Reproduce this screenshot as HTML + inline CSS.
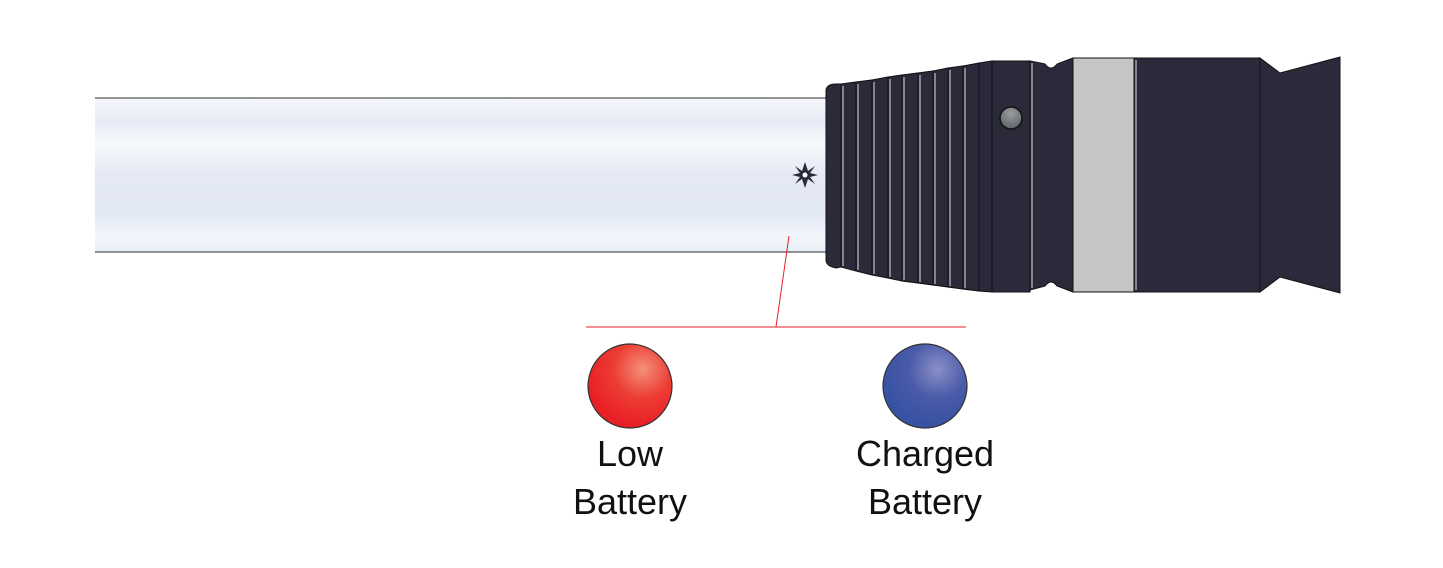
<!DOCTYPE html>
<html><head><style>
html,body{margin:0;padding:0;background:#fff;width:1443px;height:568px;overflow:hidden}
text{font-family:"Liberation Sans",sans-serif}
</style></head><body>
<svg width="1443" height="568" viewBox="0 0 1443 568" xmlns="http://www.w3.org/2000/svg">
<defs>
<linearGradient id="tube" x1="0" y1="0" x2="0" y2="1">
<stop offset="0" stop-color="#f4f6fb"/>
<stop offset="0.15" stop-color="#e6ebf5"/>
<stop offset="0.3" stop-color="#f6f8fc"/>
<stop offset="0.5" stop-color="#e4e9f4"/>
<stop offset="0.75" stop-color="#e2e8f4"/>
<stop offset="0.9" stop-color="#f2f5fb"/>
<stop offset="1" stop-color="#e8edf6"/>
</linearGradient>
<radialGradient id="red" cx="0.65" cy="0.3" r="0.7">
<stop offset="0" stop-color="#f4907a"/>
<stop offset="0.5" stop-color="#ec3c34"/>
<stop offset="1" stop-color="#e81e25"/>
</radialGradient>
<radialGradient id="blue" cx="0.65" cy="0.3" r="0.7">
<stop offset="0" stop-color="#8a8fc8"/>
<stop offset="0.5" stop-color="#4a5aa8"/>
<stop offset="1" stop-color="#3652a2"/>
</radialGradient>
<radialGradient id="hole" cx="0.5" cy="0.3" r="0.7">
<stop offset="0" stop-color="#9a9ca0"/>
<stop offset="1" stop-color="#606368"/>
</radialGradient>
</defs>
<rect x="95" y="98" width="735" height="154" fill="url(#tube)"/>
<line x1="95" y1="98" x2="830" y2="98" stroke="#555" stroke-width="1.2"/>
<line x1="95" y1="252" x2="830" y2="252" stroke="#555" stroke-width="1.2"/>
<g fill="#2a2a3a" stroke="#111" stroke-width="1">
<path d="M826,90 Q827,84 836,84 L841,84 L841,267 L836,268 Q826,266 826,260 Z"/>
<path d="M841,84 L856,82 L856,271 L841,267 Z"/>
<path d="M856,82 L872,80 L872,275 L856,271 Z"/>
<path d="M872,80 L888,77 L888,278 L872,275 Z"/>
<path d="M888,77 L902,75 L902,281 L888,278 Z"/>
<path d="M902,75 L918,73 L918,283 L902,281 Z"/>
<path d="M918,73 L933,71 L933,285 L918,283 Z"/>
<path d="M933,71 L948,68 L948,287 L933,285 Z"/>
<path d="M948,68 L963,66 L963,289 L948,287 Z"/>
<path d="M963,66 L979,63 L979,291 L963,289 Z"/>
<path d="M979,63 L992,61 L992,292 L979,291 Z"/>
<rect x="992" y="61" width="38" height="231"/>
<path d="M1030,61 L1045,64 Q1051,72 1057,64 L1073,58 L1073,292 L1057,286 Q1051,278 1045,286 L1030,290 Z"/>
<rect x="1073" y="58" width="61" height="234" fill="#c6c6c6"/>
<rect x="1134" y="58" width="126" height="234"/>
<path d="M1260,58 L1280,73 L1340,57 L1340,293 L1280,277 L1260,292 Z"/>
</g>
<g stroke="#ddd" stroke-width="1" fill="none">
<line x1="843" y1="86" x2="843" y2="266"/><line x1="858" y1="84" x2="858" y2="270"/>
<line x1="874" y1="82" x2="874" y2="274"/><line x1="890" y1="79" x2="890" y2="277"/>
<line x1="904" y1="77" x2="904" y2="280"/><line x1="920" y1="75" x2="920" y2="282"/>
<line x1="935" y1="73" x2="935" y2="284"/><line x1="950" y1="70" x2="950" y2="286"/>
<line x1="965" y1="68" x2="965" y2="288"/><line x1="1032" y1="63" x2="1032" y2="288"/>
<line x1="1136" y1="60" x2="1136" y2="290"/>
</g>
<circle cx="1011" cy="118" r="11" fill="url(#hole)" stroke="#111" stroke-width="1.5"/>
<g transform="translate(805,175)" fill="#2a2a3a">
<polygon points="0,-13 3,-4 10,-9 5,-2 13,0 5,2 10,9 3,4 0,13 -3,4 -10,9 -5,2 -13,0 -5,-2 -10,-9 -3,-4"/>
<circle r="2.5" fill="#fff"/>
</g>
<line x1="789" y1="236" x2="776" y2="327" stroke="#e8202a" stroke-width="1"/>
<line x1="586" y1="327" x2="966" y2="327" stroke="#e8202a" stroke-width="1"/>
<circle cx="630" cy="386" r="42" fill="url(#red)" stroke="#333" stroke-width="1.2"/>
<circle cx="925" cy="386" r="42" fill="url(#blue)" stroke="#333" stroke-width="1.2"/>
<g font-size="36" fill="#111" text-anchor="middle">
<text x="630" y="466">Low</text>
<text x="630" y="514">Battery</text>
<text x="925" y="466">Charged</text>
<text x="925" y="514">Battery</text>
</g>
</svg>
</body></html>
